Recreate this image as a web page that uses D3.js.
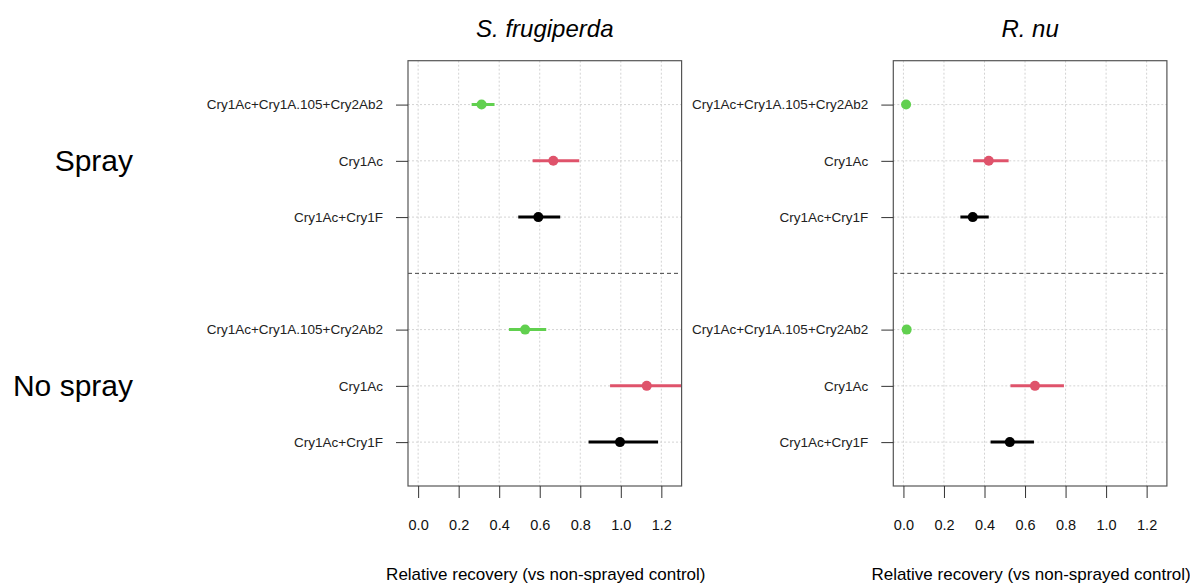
<!DOCTYPE html>
<html>
<head>
<meta charset="utf-8">
<script src="https://cdn.jsdelivr.net/npm/d3@7"></script>
<style>
  body { margin: 0; background: #fff; }
  svg { font-family: "Liberation Sans", Arial, sans-serif; }
</style>
</head>
<body>
<script>
// data
var species = ["S. frugiperda", "R. nu"];
var groups = ["Spray", "No spray"];
var treatments = ["Cry1Ac+Cry1A.105+Cry2Ab2", "Cry1Ac", "Cry1Ac+Cry1F"];
var colors = ["#61D04F", "#DF536B", "#000000"];
var xTicks = [0, 0.2, 0.4, 0.6, 0.8, 1.0, 1.2];

// estimates per species: [Spray x3 treatments, No spray x3 treatments]
var sfEst = [0.313, 0.667, 0.593, 0.528, 1.128, 0.996];
var sfLow = [0.264, 0.565, 0.494, 0.448, 0.947, 0.841];
var sfHigh = [0.377, 0.795, 0.701, 0.632, 1.36, 1.184];

var rnEst = [0.013, 0.421, 0.342, 0.016, 0.649, 0.525];
var rnLow = [0.010, 0.344, 0.281, 0.012, 0.528, 0.430];
var rnHigh = [0.016, 0.519, 0.421, 0.020, 0.792, 0.644];

var rows = [7, 6, 5, 3, 2, 1];

var width = 1190, height = 583;
var svg = d3.select("body").append("svg")
  .attr("width", width)
  .attr("height", height);

var plotTop = 60.7, plotBottom = 486;
var yscale = d3.scaleLinear().domain([0.22, 7.78]).range([plotBottom, plotTop]);

var panels = [
  { name: species[0], left: 408, est: sfEst, low: sfLow, high: sfHigh },
  { name: species[1], left: 893.3, est: rnEst, low: rnLow, high: rnHigh }
];
var panelWidth = 273.6;

panels.forEach(function(p, pi) {
  var xscale = d3.scaleLinear().domain([-0.05, 1.3]).range([p.left, p.left + panelWidth]);
  var g = svg.append("g").attr("class", "panel");

  var clipId = "clip" + pi;
  svg.append("clipPath").attr("id", clipId)
    .append("rect")
    .attr("x", p.left).attr("y", plotTop)
    .attr("width", panelWidth).attr("height", plotBottom - plotTop);

  // grid
  g.selectAll(".vgrid").data(xTicks).enter()
    .append("line")
    .attr("x1", function(d) { return xscale(d); })
    .attr("x2", function(d) { return xscale(d); })
    .attr("y1", plotTop).attr("y2", plotBottom)
    .style("stroke", "#d3d3d3")
    .style("stroke-dasharray", "2,2");
  g.selectAll(".hgrid").data(rows).enter()
    .append("line")
    .attr("x1", p.left).attr("x2", p.left + panelWidth)
    .attr("y1", function(d) { return yscale(d); })
    .attr("y2", function(d) { return yscale(d); })
    .style("stroke", "#d3d3d3")
    .style("stroke-dasharray", "2,2");

  // separator
  g.append("line")
    .attr("x1", p.left).attr("x2", p.left + panelWidth)
    .attr("y1", yscale(4)).attr("y2", yscale(4))
    .style("stroke", "#444")
    .style("stroke-dasharray", "4,3");

  // intervals
  var marks = g.append("g").attr("clip-path", "url(#" + clipId + ")");
  marks.selectAll(".ci").data(rows).enter()
    .append("line")
    .attr("x1", function(d, i) { return xscale(p.low[i]); })
    .attr("x2", function(d, i) { return xscale(p.high[i]); })
    .attr("y1", function(d) { return yscale(d); })
    .attr("y2", function(d) { return yscale(d); })
    .style("stroke", function(d, i) { return colors[i % 3]; })
    .style("stroke-width", 3);
  marks.selectAll(".pt").data(rows).enter()
    .append("circle")
    .attr("cx", function(d, i) { return xscale(p.est[i]); })
    .attr("cy", function(d) { return yscale(d); })
    .attr("r", 5)
    .style("fill", function(d, i) { return colors[i % 3]; });

  // box
  g.append("rect")
    .attr("x", p.left).attr("y", plotTop)
    .attr("width", panelWidth).attr("height", plotBottom - plotTop)
    .style("fill", "none")
    .style("stroke", "#555")
    .style("stroke-width", 1.2);

  // y axis
  var yaxis = d3.axisLeft(yscale)
    .tickValues(rows)
    .tickFormat(function(d, i) { return treatments[i % 3]; })
    .tickSize(12)
    .tickPadding(13);
  var ya = svg.append("g")
    .attr("transform", "translate(" + p.left + ",0)")
    .call(yaxis);
  ya.select(".domain").remove();
  ya.selectAll("line").style("stroke", "#333");
  ya.selectAll("text").style("font-size", "13.5px").style("fill", "#222")
    .style("font-family", "'Liberation Sans', Arial, sans-serif");

  // x axis
  var xaxis = d3.axisBottom(xscale)
    .tickValues(xTicks)
    .tickFormat(d3.format(".1f"))
    .tickSize(12)
    .tickPadding(22);
  var xa = svg.append("g")
    .attr("transform", "translate(0," + plotBottom + ")")
    .call(xaxis);
  xa.select(".domain").remove();
  xa.selectAll("line").style("stroke", "#333");
  xa.selectAll("text").style("font-size", "14.5px").style("fill", "#111")
    .style("font-family", "'Liberation Sans', Arial, sans-serif");

  // titles
  svg.append("text")
    .attr("x", xscale(0.625)).attr("y", 37)
    .attr("text-anchor", "middle")
    .style("font-size", "24px")
    .style("font-style", "italic")
    .text(p.name);
  svg.append("text")
    .attr("x", p.left + panelWidth / 2 + 1).attr("y", 580)
    .attr("text-anchor", "middle")
    .style("font-size", "17px")
    .text("Relative recovery (vs non-sprayed control)");
});

// group labels
svg.selectAll(".group").data(groups).enter()
  .append("text")
  .attr("x", 133)
  .attr("y", function(d, i) { return yscale(i === 0 ? 6 : 2) + 10; })
  .attr("text-anchor", "end")
  .style("font-size", "30px")
  .text(function(d) { return d; });
</script>
</body>
</html>
